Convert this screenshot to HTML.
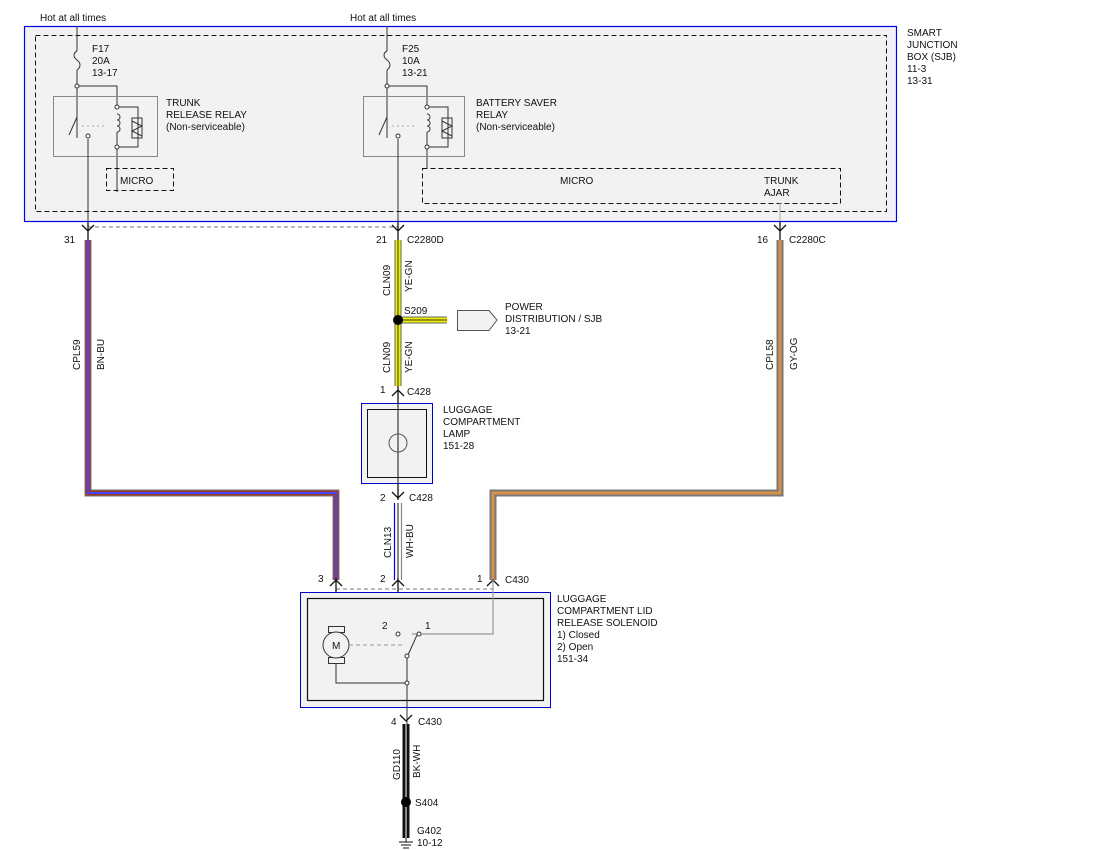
<!DOCTYPE html>
<html><head><meta charset="utf-8"><style>
html,body{margin:0;padding:0;background:#fff;}
svg{display:block;}
text{font-family:"Liberation Sans",sans-serif;font-size:10px;fill:#111;}
</style></head><body>
<svg width="1100" height="850" viewBox="0 0 1100 850">
<!-- SJB -->
<rect x="24.5" y="26.5" width="872" height="195" fill="#f2f2f2" stroke="#0000ee" stroke-width="1.2"/>
<rect x="35.5" y="35.5" width="851" height="176" fill="none" stroke="#111" stroke-dasharray="5,3"/>
<text x="907" y="36">SMART</text><text x="907" y="48">JUNCTION</text><text x="907" y="60">BOX (SJB)</text><text x="907" y="72">11-3</text><text x="907" y="84">13-31</text>
<text x="40" y="21">Hot at all times</text><text x="350" y="21">Hot at all times</text>
<!-- left relay -->
<g fill="none" stroke="#333" stroke-width="1">
<path d="M77 26V51 M77 70V138"/>
<path d="M77 51c-4 2-4 6 0 9c4 3 4 7 0 10"/>
<path d="M77 86H117V107 M117 147V192"/>
<rect x="53.5" y="96.5" width="104" height="60" stroke="#888"/>
<path d="M117 107H138V147H117"/>
<rect x="132" y="118" width="10" height="20"/>
<path d="M132 121l10 5-10 5 10 5"/>
<path d="M117 114c4 0 4 6 0 6c4 0 4 6 0 6c4 0 4 6 0 6 M117 132V147"/>
<path d="M77 117L69 135"/>
<path d="M82 126H107" stroke="#aaa" stroke-dasharray="2,3"/>
<path d="M88 139V221"/>
<circle cx="88" cy="136" r="2" fill="#fff"/><circle cx="77" cy="86" r="2" fill="#fff"/><circle cx="117" cy="107" r="2" fill="#fff"/><circle cx="117" cy="147" r="2" fill="#fff"/>
<rect x="106.5" y="168.5" width="67" height="22" stroke="#111" stroke-dasharray="5,3"/>
</g>
<text x="120" y="184">MICRO</text>
<text x="166" y="106">TRUNK</text><text x="166" y="118">RELEASE RELAY</text><text x="166" y="130">(Non-serviceable)</text>
<text x="92" y="52">F17</text><text x="92" y="64">20A</text><text x="92" y="76">13-17</text>
<!-- right relay -->
<g fill="none" stroke="#333" stroke-width="1">
<path d="M387 26V51 M387 70V138"/>
<path d="M387 51c-4 2-4 6 0 9c4 3 4 7 0 10"/>
<path d="M387 86H427V107 M427 147V168"/>
<rect x="363.5" y="96.5" width="101" height="60" stroke="#888"/>
<path d="M427 107H448V147H427"/>
<rect x="442" y="118" width="10" height="20"/>
<path d="M442 121l10 5-10 5 10 5"/>
<path d="M427 114c4 0 4 6 0 6c4 0 4 6 0 6c4 0 4 6 0 6 M427 132V147"/>
<path d="M387 117L379 135"/>
<path d="M392 126H417" stroke="#aaa" stroke-dasharray="2,3"/>
<path d="M398 139V221"/>
<circle cx="398" cy="136" r="2" fill="#fff"/><circle cx="387" cy="86" r="2" fill="#fff"/><circle cx="427" cy="107" r="2" fill="#fff"/><circle cx="427" cy="147" r="2" fill="#fff"/>
<rect x="422.5" y="168.5" width="418" height="35" stroke="#111" stroke-dasharray="5,3"/>
<path d="M780 203V221" stroke="#aaa"/>
</g>
<text x="560" y="184">MICRO</text><text x="764" y="184">TRUNK</text><text x="764" y="196">AJAR</text>
<text x="476" y="106">BATTERY SAVER</text><text x="476" y="118">RELAY</text><text x="476" y="130">(Non-serviceable)</text>
<text x="402" y="52">F25</text><text x="402" y="64">10A</text><text x="402" y="76">13-21</text>
<!-- connector C2280 -->
<path d="M88 227H398" stroke="#777" stroke-dasharray="4,3" fill="none"/>
<g fill="none" stroke="#111" stroke-width="1.3">
<path d="M82 225l6 6 6-6 M88 221V240"/>
<path d="M392 225l6 6 6-6 M398 221V240"/>
<path d="M774 225l6 6 6-6 M780 221V240"/>
</g>
<text x="64" y="243">31</text><text x="376" y="243">21</text><text x="407" y="243">C2280D</text>
<text x="757" y="243">16</text><text x="789" y="243">C2280C</text>
<!-- wires -->
<g fill="none" stroke-linejoin="miter">
<path d="M88 240V493H336V580" stroke="#777" stroke-width="7"/>
<path d="M88 240V493H336V580" stroke="#9a3a2a" stroke-width="5"/>
<path d="M88 240V493H336V580" stroke="#4444ff" stroke-width="2"/>
<path d="M780 240V493H493V580" stroke="#777" stroke-width="7"/>
<path d="M780 240V493H493V580" stroke="#d89048" stroke-width="3"/>
<path d="M398 240V386" stroke="#666" stroke-width="7"/>
<path d="M398 240V386" stroke="#f0f000" stroke-width="5"/>
<path d="M398 240V386" stroke="#333" stroke-width="1"/>
<path d="M398 320H447" stroke="#666" stroke-width="7"/>
<path d="M398 320H447" stroke="#f0f000" stroke-width="5"/>
<path d="M398 320H447" stroke="#333" stroke-width="1"/>
<path d="M394.5 503V580" stroke="#0000cc" stroke-width="1.2"/>
<path d="M401.5 503V580" stroke="#888" stroke-width="1.2"/>
<path d="M398 503V580" stroke="#111" stroke-width="1"/>
<path d="M406 724V838" stroke="#111" stroke-width="7"/>
<path d="M406 724V838" stroke="#fff" stroke-width="1"/>
</g>
<text transform="translate(104,370) rotate(-90)">BN-BU</text>
<text transform="translate(80,370) rotate(-90)">CPL59</text>
<text transform="translate(797,370) rotate(-90)">GY-OG</text>
<text transform="translate(773,370) rotate(-90)">CPL58</text>
<text transform="translate(412,292) rotate(-90)">YE-GN</text>
<text transform="translate(390,296) rotate(-90)">CLN09</text>
<text transform="translate(412,373) rotate(-90)">YE-GN</text>
<text transform="translate(390,373) rotate(-90)">CLN09</text>
<text transform="translate(413,558) rotate(-90)">WH-BU</text>
<text transform="translate(391,558) rotate(-90)">CLN13</text>
<text transform="translate(420,778) rotate(-90)">BK-WH</text>
<text transform="translate(400,780) rotate(-90)">GD110</text>
<!-- splice S209 -->
<circle cx="398" cy="320" r="5" fill="#000"/>
<text x="404" y="314">S209</text>
<path d="M457.5 310.5H489L497 320L489 330.5H457.5Z" fill="#f2f2f2" stroke="#555"/>
<text x="505" y="310">POWER</text><text x="505" y="322">DISTRIBUTION / SJB</text><text x="505" y="334">13-21</text>
<!-- lamp -->
<g fill="none" stroke="#111" stroke-width="1.3">
<path d="M392 396l6-6 6 6 M398 386V500"/>
<path d="M392 492l6 6 6-6"/>
</g>
<text x="380" y="393">1</text><text x="407" y="395">C428</text>
<rect x="361.5" y="403.5" width="71" height="80" fill="#f2f2f2" stroke="#00c" stroke-width="1"/>
<rect x="367.5" y="409.5" width="59" height="68" fill="none" stroke="#111"/>
<path d="M398 400V490" stroke="#111"/>
<circle cx="398" cy="443" r="9" fill="none" stroke="#555"/>
<text x="443" y="413">LUGGAGE</text><text x="443" y="425">COMPARTMENT</text><text x="443" y="437">LAMP</text><text x="443" y="449">151-28</text>
<text x="380" y="501">2</text><text x="409" y="501">C428</text>
<!-- C430 top -->
<path d="M336 589H493" stroke="#777" stroke-dasharray="4,3" fill="none"/>
<g fill="none" stroke="#111" stroke-width="1.3">
<path d="M330 586l6-6 6 6 M336 578V630"/>
<path d="M392 586l6-6 6 6 M398 578V632"/>
<path d="M487 586l6-6 6 6"/>
</g>
<text x="318" y="582">3</text><text x="380" y="582">2</text><text x="477" y="582">1</text><text x="505" y="583">C430</text>
<rect x="300.5" y="592.5" width="250" height="115" fill="#f2f2f2" stroke="#00c" stroke-width="1"/>
<rect x="307.5" y="598.5" width="236" height="102" fill="none" stroke="#111" stroke-width="1.2"/>
<path d="M493 580V634H412" stroke="#999" stroke-width="1.2" fill="none"/>
<g fill="none" stroke="#333">
<rect x="328.5" y="626.5" width="16" height="6"/>
<rect x="328.5" y="657.5" width="16" height="6"/>
<circle cx="336" cy="645" r="13" fill="#f2f2f2"/>
<path d="M336 664V683H407 M407 655V724"/>
<path d="M408 655L417 635"/>
<path d="M349 645H404" stroke="#999" stroke-dasharray="4,3"/>
<circle cx="398" cy="634" r="2" fill="#fff"/><circle cx="419" cy="634" r="2" fill="#fff"/><circle cx="407" cy="656" r="2" fill="#fff"/><circle cx="407" cy="683" r="2" fill="#fff"/>
</g>
<text x="332" y="649">M</text>
<text x="382" y="629">2</text><text x="425" y="629">1</text>
<text x="557" y="602">LUGGAGE</text><text x="557" y="614">COMPARTMENT LID</text><text x="557" y="626">RELEASE SOLENOID</text><text x="557" y="638">1) Closed</text><text x="557" y="650">2) Open</text><text x="557" y="662">151-34</text>
<!-- bottom -->
<path d="M400 715l6 6 6-6" fill="none" stroke="#111" stroke-width="1.3"/>
<text x="391" y="725">4</text><text x="418" y="725">C430</text>
<circle cx="406" cy="802" r="5" fill="#000"/>
<text x="415" y="806">S404</text>
<path d="M406 838V842 M399 842H413 M401 845H411 M403 848H409" stroke="#111" fill="none"/>
<text x="417" y="834">G402</text><text x="417" y="846">10-12</text>
</svg>
</body></html>
